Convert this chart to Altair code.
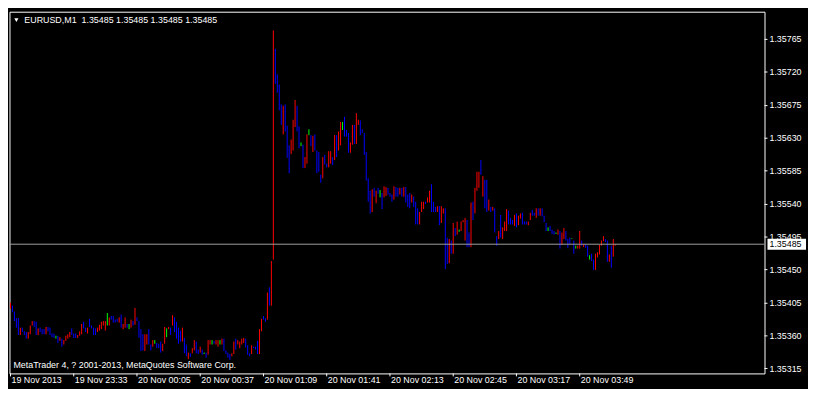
import altair as alt
import pandas as pd

SYMBOL = "EURUSD,M1"
LAST_OHLC = [1.35485, 1.35485, 1.35485, 1.35485]
LAST_PRICE = 1.35485
FIRST_BAR = "2013-11-19 23:01"
COPYRIGHT = "MetaTrader 4, ? 2001-2013, MetaQuotes Software Corp."
FIRST_LABEL = "19 Nov 2013"

# prices in points (0.00001) above 1.35000
PRICE_BASE = 1.35
HIGH_PTS = [
    405, 401, 393, 384, 384, 371, 371, 366, 365, 365,
    374, 380, 380, 379, 370, 371, 369, 369, 372, 372,
    371, 363, 363, 360, 360, 358, 356, 354, 360, 362,
    365, 370, 363, 363, 361, 366, 376, 379, 371, 371,
    383, 374, 371, 370, 371, 375, 379, 380, 380, 391,
    385, 387, 387, 382, 383, 385, 389, 376, 385, 376,
    376, 382, 380, 398, 385, 380, 369, 362, 362, 362,
    369, 348, 354, 354, 350, 349, 352, 349, 372, 370,
    372, 371, 388, 385, 379, 371, 367, 371, 357, 348,
    337, 336, 343, 354, 352, 341, 345, 341, 337, 337,
    354, 354, 354, 353, 354, 354, 354, 356, 356, 340,
    337, 335, 336, 352, 356, 354, 352, 356, 357, 356,
    347, 336, 347, 345, 345, 353, 369, 383, 387, 384,
    419, 426, 462, 777, 752, 717, 703, 676, 674, 676,
    647, 620, 628, 655, 682, 674, 646, 624, 621, 604,
    635, 642, 634, 633, 635, 613, 611, 580, 604, 607,
    595, 612, 612, 604, 634, 634, 639, 652, 652, 659,
    641, 637, 624, 648, 648, 664, 655, 654, 642, 637,
    611, 575, 558, 560, 562, 558, 562, 559, 555, 564,
    563, 562, 555, 553, 564, 563, 562, 562, 562, 563,
    563, 553, 555, 553, 550, 543, 534, 529, 543, 543,
    543, 549, 558, 567, 543, 536, 537, 537, 537, 534,
    534, 494, 492, 490, 514, 507, 516, 505, 516, 518,
    521, 518, 501, 542, 543, 562, 584, 584, 600, 578,
    573, 573, 546, 536, 536, 534, 496, 503, 525, 508,
    516, 533, 531, 521, 518, 525, 527, 524, 527, 528,
    516, 516, 516, 528, 532, 528, 534, 534, 534, 534,
    524, 514, 508, 510, 505, 503, 501, 505, 503, 501,
    507, 503, 492, 494, 493, 490, 483, 483, 503, 490,
    485, 485, 483, 470, 472, 464, 472, 474, 484, 490,
    496, 492, 490, 471, 483, 492, 485,
]
LOW_PTS = [
    397, 392, 380, 371, 361, 361, 365, 361, 356, 356,
    362, 374, 372, 361, 361, 365, 362, 362, 362, 366,
    361, 358, 357, 356, 350, 353, 345, 348, 353, 356,
    358, 361, 357, 357, 357, 360, 362, 370, 365, 363,
    372, 370, 361, 361, 365, 367, 369, 374, 367, 374,
    374, 382, 378, 378, 379, 378, 371, 369, 371, 371,
    369, 371, 374, 375, 380, 357, 339, 340, 339, 348,
    348, 340, 345, 349, 343, 343, 337, 339, 349, 358,
    369, 361, 374, 365, 356, 349, 352, 352, 336, 332,
    328, 331, 336, 340, 336, 335, 337, 334, 335, 330,
    334, 348, 348, 349, 348, 345, 348, 348, 339, 335,
    330, 327, 332, 335, 341, 348, 343, 348, 350, 344,
    334, 332, 335, 343, 341, 335, 335, 366, 382, 379,
    382, 401, 401, 464, 704, 692, 668, 648, 635, 639,
    603, 582, 608, 613, 645, 639, 616, 619, 589, 589,
    595, 634, 619, 611, 613, 582, 584, 569, 575, 594,
    590, 590, 595, 593, 600, 604, 613, 620, 641, 632,
    632, 610, 610, 621, 622, 622, 648, 634, 637, 607,
    572, 543, 527, 529, 550, 541, 554, 549, 533, 549,
    551, 553, 550, 543, 546, 550, 550, 553, 550, 550,
    542, 536, 534, 542, 536, 512, 512, 512, 529, 533,
    540, 542, 542, 529, 529, 529, 529, 511, 514, 527,
    451, 458, 459, 472, 472, 496, 498, 502, 503, 515,
    490, 481, 481, 481, 518, 527, 558, 562, 580, 550,
    534, 529, 531, 529, 531, 501, 483, 492, 494, 492,
    503, 503, 512, 512, 512, 510, 508, 511, 520, 512,
    512, 512, 511, 518, 524, 524, 521, 524, 524, 523,
    515, 503, 503, 503, 499, 498, 499, 498, 479, 484,
    492, 490, 480, 485, 492, 472, 479, 479, 479, 483,
    481, 480, 468, 464, 462, 450, 450, 467, 471, 483,
    489, 488, 461, 461, 453, 468, 483,
]
# r = up bar, b = down bar, g = unchanged
DIRECTION = (
    "rbbbbrbbbr" "rrbbrbbbrb" "bbbgbrbrrr" "rbbbrrrbbr" "bbbbrrrrrg"
    "rbbbbrbrrb" "grbrbbbbrr" "bbrgbbbrrg" "rbrbbbbrbb" "rbrrbbrbgb"
    "rrgbrrgrbb" "bbrrbrrrrb" "bbrbbbrrbb" "rbrrbbbbrb" "bbrrrbbgbr"
    "rgbrbbbbrb" "brrbrbrrgb" "bbrrbrrbbb" "bbbrbrbgbr" "rbbbrbbrbr"
    "bbbrbbbrrr" "brrbbbrbrr" "bbrbrbrgrr" "rbbrbrrrbr" "bbrbrbbrbr"
    "rrbbbrbrrb" "bbrrbbrbrb" "bbgbbbgrbr" "rbbbgbgrrb" "rbbgbbrrrr"
    "rbbrbrr"
)

Y_TICKS = [1.35315, 1.35360, 1.35405, 1.35450, 1.35495, 1.35540,
           1.35585, 1.35630, 1.35675, 1.35720, 1.35765]
X_TICKS = ["2013-11-19 23:01", "2013-11-19 23:33", "2013-11-20 00:05",
           "2013-11-20 00:37", "2013-11-20 01:09", "2013-11-20 01:41",
           "2013-11-20 02:13", "2013-11-20 02:45", "2013-11-20 03:17",
           "2013-11-20 03:49"]
Y_RANGE = [1.353085, 1.358026]

W, H = 764, 366
FONT = "Liberation Sans"
RED, BLUE, LIME = "#ff0000", "#0000ff", "#00ff00"
LINE_GREY = "#a0a0a0"

n = min(len(HIGH_PTS), len(LOW_PTS), len(DIRECTION))
times = pd.date_range(FIRST_BAR, periods=n, freq="min")
bars = pd.DataFrame({
    "time": times.strftime("%Y-%m-%dT%H:%M:%S"),
    "high": [round(PRICE_BASE + p / 1e5, 5) for p in HIGH_PTS[:n]],
    "low": [round(PRICE_BASE + p / 1e5, 5) for p in LOW_PTS[:n]],
    "dir": list(DIRECTION[:n]),
})


def dt(ts):
    ts = pd.Timestamp(ts)
    return alt.DateTime(year=ts.year, month=ts.month, date=ts.day,
                        hours=ts.hour, minutes=ts.minute, seconds=ts.second)


d0 = pd.Timestamp(FIRST_BAR) - pd.Timedelta(seconds=30)
d1 = d0 + pd.Timedelta(minutes=W / 2)

yscale = alt.Scale(domain=Y_RANGE, nice=False, zero=False)

x_axis = alt.Axis(
    values=[dt(t) for t in X_TICKS], title=None, orient="bottom",
    labelExpr=f"datum.index == 0 ? '{FIRST_LABEL}' : timeFormat(datum.value, '%d %b %H:%M')",
    labelAlign="left", labelBaseline="top", labelPadding=0, labelOffset=1,
    labelFlush=False, labelOverlap=False, tickSize=3, domain=False, grid=False,
    translate=0,
)
y_axis = alt.Axis(
    values=Y_TICKS, format=".5f", orient="right", title=None, tickSize=3,
    labelPadding=2, domain=False, grid=False, labelOverlap=False,
    labelFlush=False, labelBound=False, translate=0,
)

bar_layer = alt.Chart(bars).mark_rule(strokeWidth=1).encode(
    x=alt.X("time:T", scale=alt.Scale(domain=[dt(d0), dt(d1)], nice=False), axis=x_axis),
    y=alt.Y("low:Q", scale=yscale, axis=y_axis),
    y2="high:Q",
    color=alt.Color("dir:N", scale=alt.Scale(domain=["r", "b", "g"], range=[RED, BLUE, LIME]), legend=None),
)

last_df = pd.DataFrame({"price": [LAST_PRICE], "label": [f"{LAST_PRICE:.5f}"]})

price_line = alt.Chart(last_df).mark_rule(color=LINE_GREY, strokeWidth=1).encode(
    y=alt.Y("price:Q", scale=yscale, axis=y_axis),
)
price_box = alt.Chart(last_df).mark_rule(color="white", strokeWidth=11, strokeCap="butt").encode(
    y=alt.Y("price:Q", scale=yscale, axis=y_axis),
    x=alt.value(W + 3), x2=alt.value(W + 42),
)
price_text = alt.Chart(last_df).mark_text(
    align="left", baseline="middle", color="black", font=FONT, fontSize=9
).encode(
    y=alt.Y("price:Q", scale=yscale, axis=y_axis), x=alt.value(W + 5), text="label:N",
)

header = SYMBOL + "\u00a0\u00a0" + " ".join(f"{v:.5f}" for v in LAST_OHLC)
head_df = pd.DataFrame({"t": [header]})
head_text = alt.Chart(head_df).mark_text(
    align="left", baseline="middle", color="white", font=FONT, fontSize=9
).encode(x=alt.value(15), y=alt.value(8), text="t:N")
head_tri = alt.Chart(head_df).mark_point(
    shape="triangle-down", filled=True, color="white", size=18, opacity=1
).encode(x=alt.value(7), y=alt.value(8.5))

copy_df = pd.DataFrame({"t": [COPYRIGHT]})
copy_text = alt.Chart(copy_df).mark_text(
    align="left", baseline="alphabetic", color="white", font=FONT, fontSize=9
).encode(x=alt.value(4), y=alt.value(H - 5), text="t:N")

chart = alt.layer(
    bar_layer, price_line, price_box, price_text, head_tri, head_text, copy_text
).properties(
    width=W, height=H,
    autosize=alt.AutoSizeParams(type="none"),
    padding={"left": 1.5, "top": 1.5, "right": 44, "bottom": 13.5},
).configure(
    background="black",
).configure_view(
    stroke="white", strokeWidth=1, fill="black",
).configure_axis(
    labelColor="white", tickColor="white", labelFont=FONT, labelFontSize=9,
    tickWidth=1, labelOverlap=False,
).configure_axisY(
    labelOverlap=False,
)

chart.save("out.html", embed_options={"renderer": "svg", "actions": False})
